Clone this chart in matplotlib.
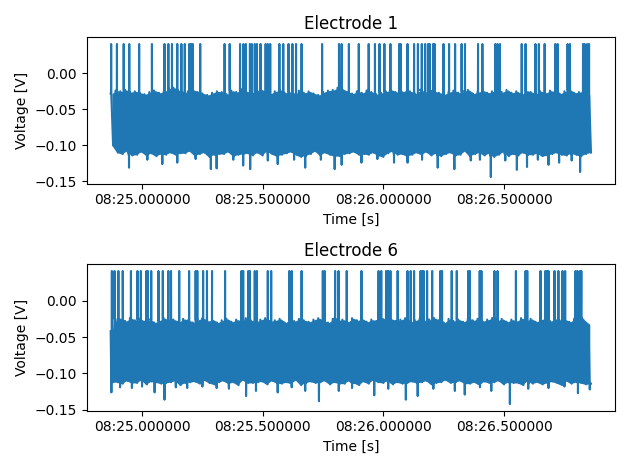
#Plot two electrode voltage traces
import numpy as np
import pandas as pd
import matplotlib.pyplot as plt
import matplotlib.dates as mdates

#Band edges of each trace in mV, one value every 20 ms starting 08:24.870
upper_e1 = [-28, -24, -25, -23, -26, -25, -27, -29, -26, -24,
            -27, -25, -21, -20, -24, -27, -25, -23, -26, -28,
            -30, -27, -25, -26, -29, -24, -26, -22, -25, -27,
            -24, -22, -26, -28, -25, -23, -27, -26, -29, -24,
            -27, -25, -28, -30, -26, -24, -23, -20, -22, -26,
            -28, -25, -27, -24, -26, -29, -27, -25, -23, -26,
            -24, -27, -25, -28, -23, -26, -22, -25, -27, -29,
            -26, -24, -27, -25, -23, -28, -26, -24, -27, -25,
            -28, -26, -23, -27, -25, -29, -24, -26, -28, -25,
            -27, -24, -26, -28, -25, -23, -27, -26, -24, -30]
lower_e1 = [-100, -110, -112, -108, -114, -113, -109, -114, -111, -115,
            -112, -113, -110, -113, -111, -111, -108, -114, -112, -110,
            -116, -113, -112, -112, -109, -115, -113, -112, -111, -114,
            -110, -114, -108, -112, -115, -113, -111, -109, -113, -116,
            -114, -112, -108, -114, -110, -113, -115, -115, -112, -111,
            -109, -113, -112, -113, -110, -114, -116, -111, -108, -113,
            -112, -115, -113, -110, -113, -109, -114, -111, -115, -112,
            -110, -114, -113, -108, -115, -112, -110, -114, -111, -116,
            -113, -109, -115, -112, -114, -110, -113, -113, -111, -115,
            -114, -112, -110, -113, -114, -111, -113, -115, -112, -110]
upper_e6 = [-42, -25, -26, -28, -24, -27, -25, -29, -26, -30,
            -27, -24, -28, -26, -29, -25, -27, -30, -26, -24,
            -28, -26, -30, -27, -25, -29, -26, -28, -24, -27,
            -29, -26, -24, -28, -27, -25, -30, -26, -28, -25,
            -27, -29, -26, -24, -28, -30, -25, -27, -26, -29,
            -24, -27, -25, -29, -26, -28, -23, -27, -25, -28,
            -26, -24, -29, -27, -25, -28, -26, -24, -27, -30,
            -25, -28, -26, -29, -24, -27, -25, -28, -26, -24,
            -27, -25, -29, -26, -28, -24, -27, -25, -29, -26,
            -24, -28, -25, -27, -26, -29, -25, -24, -27, -33]
lower_e6 = [-112, -112, -114, -110, -113, -113, -109, -115, -111, -112,
            -114, -113, -112, -110, -116, -113, -112, -111, -114, -109,
            -113, -115, -112, -110, -114, -112, -116, -109, -113, -113,
            -112, -111, -115, -110, -113, -114, -112, -114, -109, -116,
            -113, -111, -113, -112, -110, -115, -112, -114, -114, -110,
            -113, -116, -111, -114, -109, -112, -113, -110, -115, -112,
            -114, -113, -111, -113, -112, -110, -115, -113, -112, -109,
            -113, -112, -110, -114, -114, -112, -116, -111, -113, -112,
            -110, -115, -112, -113, -113, -116, -110, -114, -112, -115,
            -113, -111, -113, -116, -110, -114, -112, -113, -115, -114]

#Spike times in seconds after 08:24
spikes_e1 = [24.872, 24.896, 24.924, 24.947, 24.988, 25.041, 25.093, 25.109, 25.124,
             25.146, 25.163, 25.177, 25.196, 25.203, 25.210, 25.241, 25.342, 25.363,
             25.406, 25.420, 25.430, 25.447, 25.455, 25.467, 25.476, 25.491, 25.512,
             25.521, 25.531, 25.569, 25.585, 25.607, 25.623, 25.638, 25.661, 25.746,
             25.816, 25.827, 25.857, 25.898, 25.939, 25.965, 25.984, 26.004, 26.029,
             26.065, 26.072, 26.100, 26.127, 26.143, 26.159, 26.173, 26.185, 26.192,
             26.206, 26.212, 26.249, 26.272, 26.297, 26.324, 26.338, 26.392, 26.410,
             26.464, 26.473, 26.483, 26.573, 26.589, 26.630, 26.644, 26.668, 26.712,
             26.722, 26.763, 26.773, 26.827, 26.834, 26.844, 26.852]
spikes_e6 = [24.875, 24.886, 24.902, 24.920, 24.954, 24.981, 24.995, 25.018, 25.024,
             25.038, 25.068, 25.086, 25.109, 25.120, 25.154, 25.195, 25.222, 25.229,
             25.253, 25.269, 25.290, 25.344, 25.412, 25.419, 25.440, 25.447, 25.467,
             25.476, 25.521, 25.535, 25.610, 25.620, 25.661, 25.749, 25.757, 25.800,
             25.814, 25.848, 25.909, 25.980, 25.991, 26.011, 26.020, 26.029, 26.059,
             26.100, 26.113, 26.127, 26.154, 26.161, 26.167, 26.181, 26.202, 26.236,
             26.243, 26.283, 26.304, 26.351, 26.358, 26.399, 26.406, 26.460, 26.473,
             26.549, 26.589, 26.596, 26.651, 26.671, 26.678, 26.684, 26.709, 26.725,
             26.742, 26.753, 26.796, 26.804, 26.814, 26.820]
spike_mv = 40.7

#Downward dips below the band: time [s after 08:24] and depth [mV]
dip_t_e1 = [24.946, 25.022, 25.084, 25.146, 25.222, 25.285, 25.309, 25.378, 25.419,
            25.448, 25.521, 25.562, 25.630, 25.676, 25.741, 25.798, 25.827, 25.909,
            25.975, 26.044, 26.100, 26.160, 26.225, 26.294, 26.362, 26.400, 26.445,
            26.505, 26.553, 26.595, 26.640, 26.684, 26.728, 26.780, 26.815]
dip_v_e1 = [-131, -120, -126, -124, -119, -133, -132, -120, -128,
            -133, -121, -126, -120, -131, -120, -133, -127, -124,
            -119, -124, -124, -120, -131, -133, -121, -120, -144,
            -121, -134, -130, -120, -127, -124, -121, -137]
dip_t_e6 = [24.873, 24.909, 24.958, 25.000, 25.052, 25.093, 25.140, 25.187, 25.250,
            25.309, 25.360, 25.431, 25.472, 25.562, 25.620, 25.676, 25.733, 25.815,
            25.870, 25.962, 26.020, 26.093, 26.142, 26.207, 26.296, 26.337, 26.400,
            26.447, 26.524, 26.600, 26.684, 26.750, 26.806, 26.855]
dip_v_e6 = [-126, -119, -120, -118, -126, -136, -119, -120, -118,
            -120, -121, -131, -124, -126, -119, -124, -138, -124,
            -120, -130, -121, -136, -131, -121, -124, -129, -119,
            -124, -142, -121, -120, -118, -127, -122]

t_start = 24.87
dt = 0.02
base = pd.Timestamp('2021-01-01 00:08:00')


def needles(times, values, edge):
    """Needles that leave the band edge and come straight back"""
    times = np.array(times)
    near = np.clip(np.round((times - t_start)/dt).astype(int), 0, len(edge) - 1)
    eps = 0.0004
    t = np.concatenate([times - eps, times, times + eps])
    v = np.concatenate([edge[near], np.array(values, dtype=float), edge[near]])
    return t, v


def build_trace(upper, lower, spikes, dip_t, dip_v):
    """Interleave band edges, spikes and dips into one time ordered trace"""
    upper = np.array(upper, dtype=float)
    lower = np.array(lower, dtype=float)
    n = len(upper)
    t_up = t_start + dt*np.arange(n)
    t_lo = t_up + dt/2
    ts, vs = needles(spikes, [spike_mv]*len(spikes), upper)
    td, vd = needles(dip_t, dip_v, lower)
    t = np.concatenate([t_up, t_lo, ts, td])
    v = np.concatenate([upper, lower, vs, vd])
    order = np.argsort(t, kind='stable')
    times = base + pd.to_timedelta(t[order], unit='s')
    return times, v[order]/1000


fig, axes = plt.subplots(2, 1, figsize=(6.3, 4.69))
traces = [('Electrode 1', upper_e1, lower_e1, spikes_e1, dip_t_e1, dip_v_e1),
          ('Electrode 6', upper_e6, lower_e6, spikes_e6, dip_t_e6, dip_v_e6)]
for ax, (name, up, lo, sp, dtm, dvl) in zip(axes, traces):
    times, volts = build_trace(up, lo, sp, dtm, dvl)
    t_band = base + pd.to_timedelta(t_start + dt*np.arange(len(up)) + dt/4, unit='s')
    ax.fill_between(t_band, np.array(up)/1000, np.array(lo)/1000, color='#1f77b4', lw=0)
    ax.plot(times, volts, color='#1f77b4', lw=1.5)
    ax.set_title(name)
    ax.set_xlabel('Time [s]')
    ax.set_ylabel('Voltage [V]')
    ax.xaxis.set_major_locator(mdates.MicrosecondLocator(interval=500000))
    ax.xaxis.set_major_formatter(mdates.DateFormatter('%M:%S.%f'))

plt.tight_layout()
plt.savefig('out.png', dpi=100)
